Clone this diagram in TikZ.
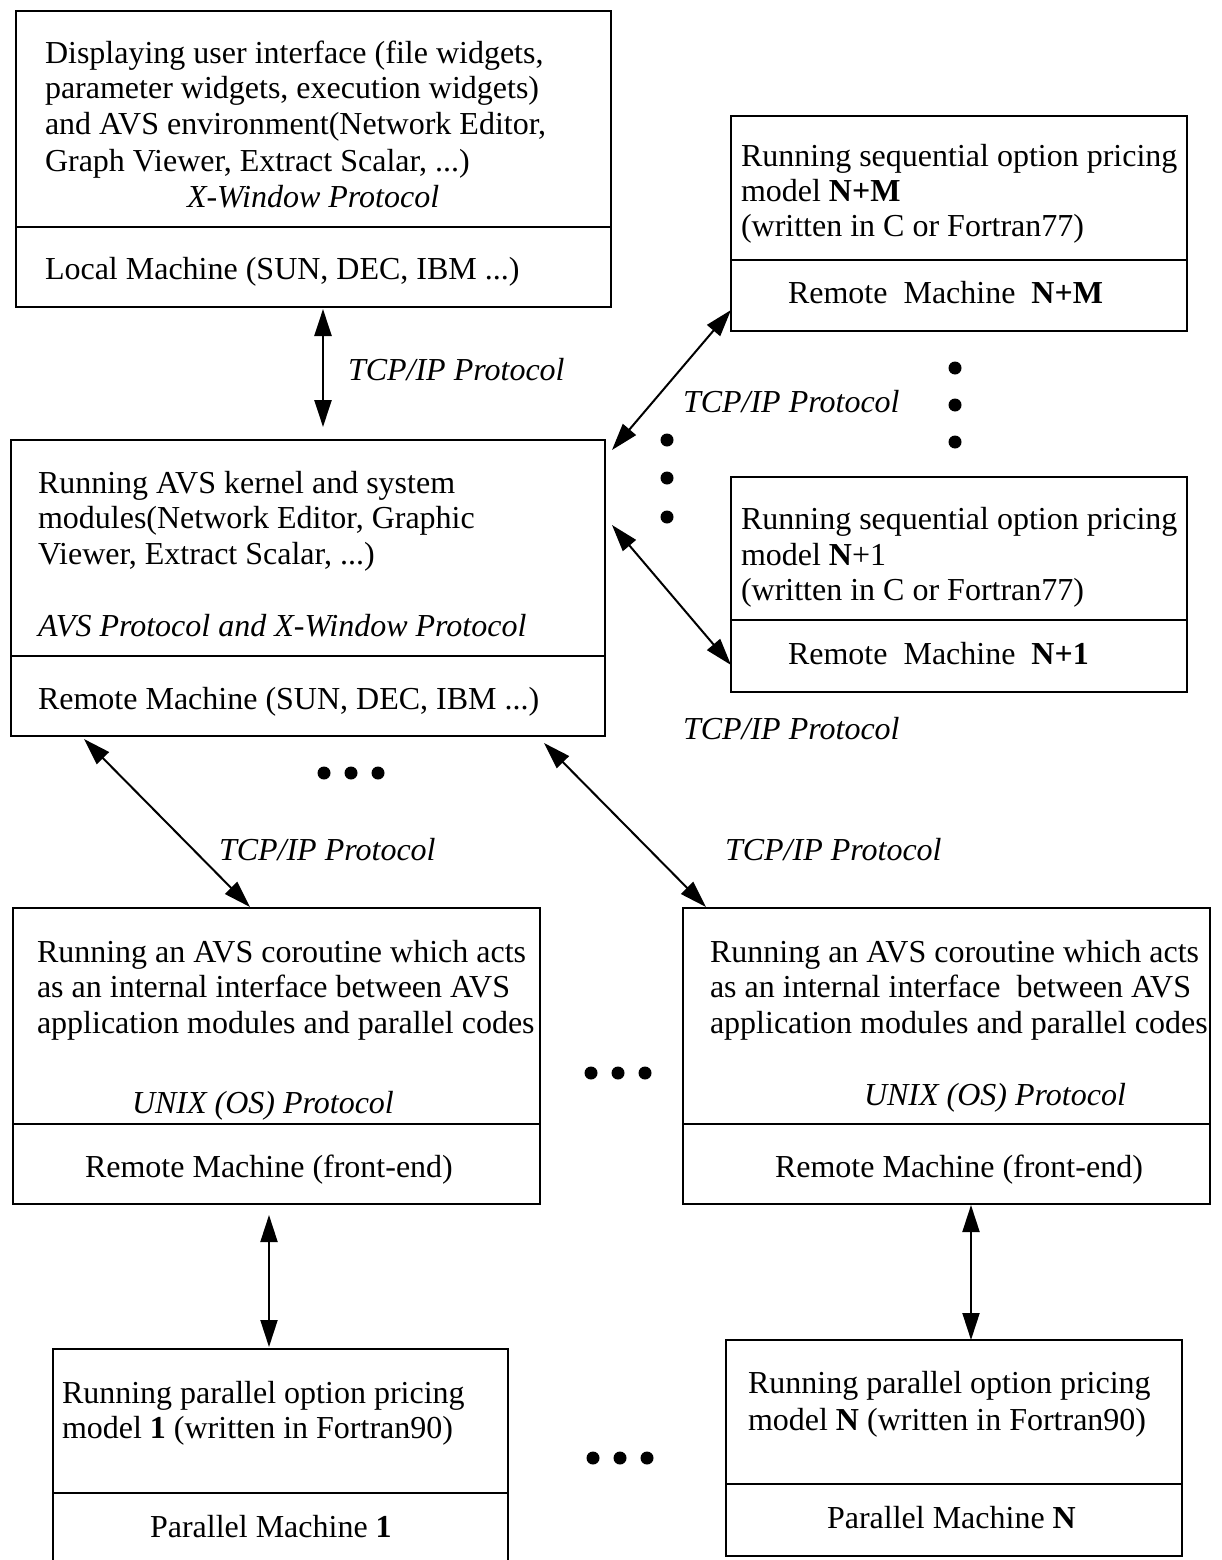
\documentclass[tikz,border=0pt]{standalone}
\usepackage{fontspec}
\setmainfont{Liberation Serif}
\usetikzlibrary{arrows.meta}
\tikzset{
  box/.style={draw=black, line width=2pt, rectangle, inner sep=0pt, outer sep=0pt, anchor=north west},
  thickbox/.style={box, line width=2.8pt},
  divider/.style={draw=black, line width=2pt},
  conn/.style={draw=black, line width=2pt, {Triangle[length=27pt,width=17pt]}-{Triangle[length=27pt,width=17pt]}},
  txt/.style={anchor=base west, inner sep=0pt, outer sep=0pt, font=\fontsize{32}{34}\selectfont},
  itxt/.style={txt, font=\fontsize{32}{34}\selectfont\itshape},
  dotmark/.style={fill=black, circle, inner sep=0pt, minimum size=13pt}
}
\begin{document}
\begin{tikzpicture}[x=1pt,y=-1pt]
\useasboundingbox (0,0) rectangle (1222,1560);

% ---- boxes ----
\node[box, minimum width=595, minimum height=296] (b1) at (16,11) {};
\draw[divider] (16,227) -- (611,227);
\node[box, minimum width=594, minimum height=296] (b2) at (11,440) {};
\draw[divider] (11,656) -- (605,656);
\node[thickbox, minimum width=456, minimum height=215] (bnm) at (731,116) {};
\draw[divider] (731,260) -- (1187,260);
\node[thickbox, minimum width=456, minimum height=215] (bn1) at (731,477) {};
\draw[divider] (731,620) -- (1187,620);
\node[box, minimum width=527, minimum height=296] (bcl) at (13,908) {};
\draw[divider] (13,1124) -- (540,1124);
\node[box, minimum width=527, minimum height=296] (bcr) at (683,908) {};
\draw[divider] (683,1124) -- (1210,1124);
\node[thickbox, minimum width=455, minimum height=216] (bpl) at (53,1349) {};
\draw[divider] (53,1493) -- (508,1493);
\node[thickbox, minimum width=456, minimum height=216] (bpr) at (726,1340) {};
\draw[divider] (726,1484) -- (1182,1484);

% ---- box texts ----
\node[txt] (t1a) at (45,64) {Displaying user interface (file widgets,};
\node[txt] (t1b) at (45,99) {parameter widgets, execution widgets)};
\node[txt] (t1c) at (45,135) {and AVS environment(Network Editor,};
\node[txt] (t1d) at (45,171) {Graph Viewer, Extract Scalar, ...)};
\node[itxt] (t1e) at (187,207) {X-Window Protocol};
\node[txt] (t1f) at (45,279) {Local Machine (SUN, DEC, IBM ...)};

\node[txt] (t2a) at (38,493) {Running AVS kernel and system};
\node[txt] (t2b) at (38,528) {modules(Network Editor, Graphic};
\node[txt] (t2c) at (38,564) {Viewer, Extract Scalar, ...)};
\node[itxt] (t2d) at (38,636) {AVS Protocol and X-Window Protocol};
\node[txt] (t2e) at (38,709) {Remote Machine (SUN, DEC, IBM ...)};

\node[txt] (tma) at (741,166) {Running sequential option pricing};
\node[txt] (tmb) at (741,201) {model \textbf{N+M}};
\node[txt] (tmc) at (741,236) {(written in C or Fortran77)};
\node[txt] (tmd) at (788,303) {Remote\ \ Machine\ \ \textbf{N+M}};

\node[txt] (tna) at (741,529) {Running sequential option pricing};
\node[txt] (tnb) at (741,565) {model \textbf{N}+1};
\node[txt] (tnc) at (741,600) {(written in C or Fortran77)};
\node[txt] (tnd) at (788,664) {Remote\ \ Machine\ \ \textbf{N+1}};

\node[txt] (tla) at (37,962) {Running an AVS coroutine which acts};
\node[txt] (tlb) at (37,997) {as an internal interface between AVS};
\node[txt] (tlc) at (37,1033) {application modules and parallel codes};
\node[itxt] (tld) at (132,1113) {UNIX (OS) Protocol};
\node[txt] (tle) at (85,1177) {Remote Machine (front-end)};

\node[txt] (tra) at (710,962) {Running an AVS coroutine which acts};
\node[txt] (trb) at (710,997) {as an internal interface\ \ between AVS};
\node[txt] (trc) at (710,1033) {application modules and parallel codes};
\node[itxt] (trd) at (864,1105) {UNIX (OS) Protocol};
\node[txt] (tre) at (775,1177) {Remote Machine (front-end)};

\node[txt] (tpa) at (62,1403) {Running parallel option pricing};
\node[txt] (tpb) at (62,1438) {model \textbf{1} (written in Fortran90)};
\node[txt] (tpc) at (150,1537) {Parallel Machine \textbf{1}};

\node[txt] (tqa) at (748,1393) {Running parallel option pricing};
\node[txt] (tqb) at (748,1430) {model \textbf{N} (written in Fortran90)};
\node[txt] (tqc) at (827,1528) {Parallel Machine \textbf{N}};

% ---- protocol labels ----
\node[itxt] (l1) at (348,380) {TCP/IP Protocol};
\node[itxt] (l2) at (683,412) {TCP/IP Protocol};
\node[itxt] (l3) at (683,739) {TCP/IP Protocol};
\node[itxt] (l4) at (219,860) {TCP/IP Protocol};
\node[itxt] (l5) at (725,860) {TCP/IP Protocol};

% ---- connectors ----
\coordinate (a1s) at (323,309);  \coordinate (a1e) at (323,427);
\coordinate (a2s) at (612,450);  \coordinate (a2e) at (731,310);
\coordinate (a3s) at (612,525);  \coordinate (a3e) at (731,665);
\coordinate (a4s) at (84,739);   \coordinate (a4e) at (250,907);
\coordinate (a5s) at (544,743);  \coordinate (a5e) at (706,907);
\coordinate (a6s) at (269,1215); \coordinate (a6e) at (269,1347);
\coordinate (a7s) at (971,1205); \coordinate (a7e) at (971,1340);
\draw[conn, line width=2.6pt] (a1s) -- (a1e);
\draw[conn] (a2s) -- (a2e);
\draw[conn] (a3s) -- (a3e);
\draw[conn] (a4s) -- (a4e);
\draw[conn] (a5s) -- (a5e);
\draw[conn] (a6s) -- (a6e);
\draw[conn] (a7s) -- (a7e);

% ---- ellipsis dots ----
\node[dotmark] (d1) at (324,773) {};
\node[dotmark] (d2) at (351,773) {};
\node[dotmark] (d3) at (378,773) {};
\node[dotmark] (d4) at (591,1073) {};
\node[dotmark] (d5) at (618,1073) {};
\node[dotmark] (d6) at (645,1073) {};
\node[dotmark] (d7) at (593,1458) {};
\node[dotmark] (d8) at (620,1458) {};
\node[dotmark] (d9) at (647,1458) {};
\node[dotmark] (v1) at (667,440) {};
\node[dotmark] (v2) at (667,478) {};
\node[dotmark] (v3) at (667,517) {};
\node[dotmark] (w1) at (955,368) {};
\node[dotmark] (w2) at (955,405) {};
\node[dotmark] (w3) at (955,442) {};
\end{tikzpicture}
\end{document}
